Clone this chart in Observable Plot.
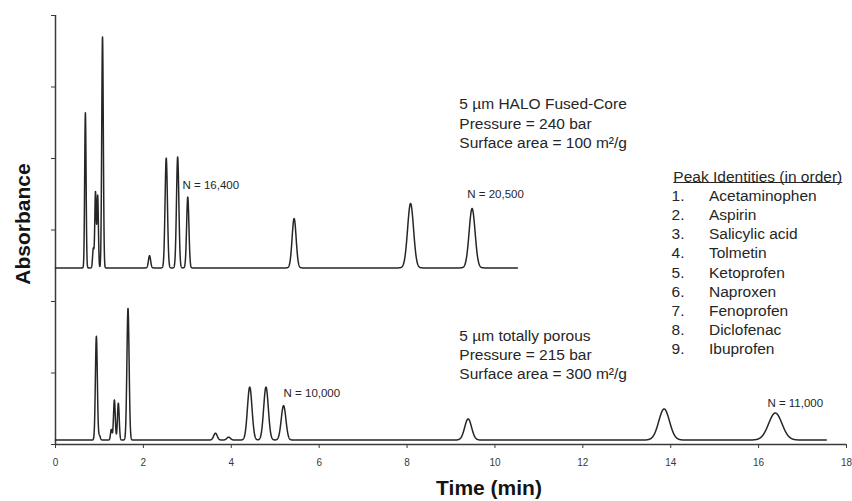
<!DOCTYPE html>
<html><head><meta charset="utf-8">
<script src="https://cdn.jsdelivr.net/npm/d3@7"></script>
<script src="https://cdn.jsdelivr.net/npm/@observablehq/plot@0.6"></script>
<style>body{margin:0;background:#fff}svg{display:block}</style>
</head><body><div id="chart"></div>
<script>
// Axis ticks
const xTicks = [0, 2, 4, 6, 8, 10, 12, 14, 16, 18];
const yTicks = [0, 1, 2, 3, 4, 5, 6];

// Upper chromatogram (5 µm HALO Fused-Core): peak retention time (min), height, width (sigma, min)
const upperTimes   = [0.68, 0.86, 0.91, 0.96, 1.07, 2.14, 2.52, 2.78, 3.01, 5.43, 8.08, 9.48];
const upperHeights = [2.17, 0.27, 1.06, 1.01, 3.23, 0.17, 1.535, 1.55, 0.99, 0.69, 0.90, 0.83];
const upperWidths  = [0.016, 0.016, 0.016, 0.016, 0.018, 0.025, 0.027, 0.027, 0.026, 0.046, 0.068, 0.068];
const upperBaseline = 2.47;
const upperEnd = 10.51;

// Lower chromatogram (5 µm totally porous)
const lowerTimes   = [0.93, 1.00, 1.27, 1.34, 1.43, 1.65, 3.64, 3.94, 4.42, 4.79, 5.19, 9.39, 13.85, 16.38];
const lowerHeights = [1.45, 0.06, 0.147, 0.56, 0.515, 1.84, 0.095, 0.04, 0.74, 0.74, 0.48, 0.295, 0.434, 0.377];
const lowerWidths  = [0.022, 0.02, 0.018, 0.02, 0.02, 0.025, 0.04, 0.04, 0.052, 0.053, 0.053, 0.078, 0.122, 0.152];
const lowerBaseline = 0.063;
const lowerEnd = 17.54;

// Texts
const upperNotes = ["5 µm HALO Fused-Core", "Pressure = 240 bar", "Surface area = 100 m²/g"];
const lowerNotes = ["5 µm totally porous", "Pressure = 215 bar", "Surface area = 300 m²/g"];
const plateLabels = ["N = 16,400", "N = 20,500", "N = 10,000", "N = 11,000"];
const legendTitle = "Peak Identities (in order)";
const peakNames = ["Acetaminophen", "Aspirin", "Salicylic acid", "Tolmetin", "Ketoprofen", "Naproxen", "Fenoprofen", "Diclofenac", "Ibuprofen"];
const xLabel = "Time (min)";
const yLabel = "Absorbance";

// Render each trace from its peak table
function trace(times, heights, widths, base, tEnd) {
  const step = 0.002;
  const n = Math.round(tEnd / step);
  const pts = [];
  for (let i = 0; i <= n; i++) {
    const t = i * step;
    let v = base;
    for (let k = 0; k < times.length; k++) {
      const z = (t - times[k]) / widths[k];
      if (Math.abs(z) < 8) v += heights[k] * Math.exp(-0.5 * z * z);
    }
    pts.push({t, v});
  }
  return pts;
}
const upper = trace(upperTimes, upperHeights, upperWidths, upperBaseline, upperEnd);
const lower = trace(lowerTimes, lowerHeights, lowerWidths, lowerBaseline, lowerEnd);

const font = "'Liberation Sans', Arial, sans-serif";
const ink = "#262626";
const fs = 15.5;

const plot = Plot.plot({
  width: 852, height: 501,
  marginLeft: 55, marginRight: 6, marginTop: 15, marginBottom: 57,
  x: {domain: [0, 18]},
  y: {domain: [0, 6]},
  style: {fontFamily: font, background: "#fff"},
  marks: [
    Plot.axisX({ticks: xTicks, tickSize: 4, tickPadding: 10, fontSize: 10, color: "#3a3a3a", label: null}),
    Plot.axisY({ticks: yTicks, tickSize: 4, tickFormat: () => "", color: "#3a3a3a", label: null}),
    Plot.ruleY([0], {stroke: "#3a3a3a", strokeWidth: 1.5}),
    Plot.ruleX([0], {stroke: "#3a3a3a", strokeWidth: 1.5}),
    Plot.line(upper, {x: "t", y: "v", stroke: ink, strokeWidth: 1.5}),
    Plot.line(lower, {x: "t", y: "v", stroke: ink, strokeWidth: 1.5}),
    Plot.text(upperNotes, {x: 9.19, y: (d, i) => 4.755 - 0.27 * i, text: d => d, textAnchor: "start", lineAnchor: "middle", fontSize: fs, fill: ink}),
    Plot.text(lowerNotes, {x: 9.19, y: (d, i) => 1.524 - 0.27 * i, text: d => d, textAnchor: "start", lineAnchor: "middle", fontSize: fs, fill: ink}),
    Plot.text(plateLabels, {x: [2.89, 9.37, 5.19, 16.2], y: [3.62, 3.497, 0.717, 0.573], text: d => d, textAnchor: "start", lineAnchor: "middle", fontSize: 11.5, fill: ink}),
    Plot.text([legendTitle], {x: 14.06, y: 3.734, text: d => d, textAnchor: "start", lineAnchor: "middle", fontSize: fs, fill: ink}),
    Plot.text(peakNames, {x: 14.02, y: (d, i) => 3.473 - 0.267 * i, text: (d, i) => `${i + 1}.`, textAnchor: "start", lineAnchor: "middle", fontSize: fs, fill: ink}),
    Plot.text(peakNames, {x: 14.87, y: (d, i) => 3.473 - 0.267 * i, text: d => d, textAnchor: "start", lineAnchor: "middle", fontSize: fs, fill: ink}),
    Plot.text([xLabel], {frameAnchor: "bottom", dx: 38, dy: 44, text: d => d, fontSize: 21, fontWeight: "bold", fill: "#141414", textAnchor: "middle", lineAnchor: "middle"}),
    Plot.text([yLabel], {frameAnchor: "left", dx: -32, dy: -6, rotate: -90, text: d => d, fontSize: 21, fontWeight: "bold", fill: "#141414", textAnchor: "middle", lineAnchor: "middle"})
  ]
});
document.getElementById("chart").appendChild(plot);
// underline the legend title
const svgRect = plot.getBoundingClientRect();
d3.select(plot).selectAll("text").filter(function () { return this.textContent === legendTitle; }).each(function () {
  const r = this.getBoundingClientRect();
  const yy = r.bottom - svgRect.top - 3;
  d3.select(plot).append("line")
    .attr("x1", r.left - svgRect.left).attr("x2", r.right - svgRect.left)
    .attr("y1", yy).attr("y2", yy)
    .attr("stroke", ink).attr("stroke-width", 1.1);
});
</script>
</body></html>
